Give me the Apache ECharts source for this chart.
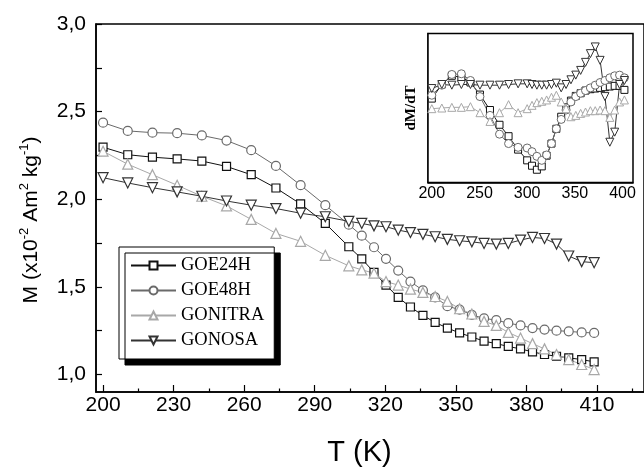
<!DOCTYPE html>
<html>
<head>
<meta charset="utf-8">
<script src="https://cdn.jsdelivr.net/npm/echarts@6/dist/echarts.min.js"></script>
<style>html,body{margin:0;padding:0;background:#fff}#c{width:644px;height:472px}</style>
</head>
<body>
<div id="c"></div>
<script>
// ---- main chart data: T (K) and M (x10^-2 Am^2 kg^-1)
const T_MAIN = [200, 210.5, 221, 231.5, 242, 252.5, 263, 273.5, 284, 294.5, 304.5, 310, 315.2, 320.3, 325.5, 330.7, 336, 341.2, 346.4, 351.6, 356.8, 362, 367.2, 372.3, 377.5, 382.6, 387.7, 392.8, 398, 403.5, 408.8];
const GOE24H = [2.297, 2.254, 2.24, 2.23, 2.218, 2.187, 2.14, 2.064, 1.973, 1.862, 1.729, 1.66, 1.583, 1.51, 1.44, 1.385, 1.337, 1.297, 1.265, 1.237, 1.214, 1.19, 1.176, 1.16, 1.146, 1.129, 1.114, 1.104, 1.095, 1.085, 1.072];
const GOE48H = [2.437, 2.39, 2.38, 2.377, 2.364, 2.335, 2.28, 2.19, 2.08, 1.966, 1.855, 1.792, 1.726, 1.66, 1.593, 1.53, 1.48, 1.44, 1.39, 1.37, 1.34, 1.32, 1.31, 1.293, 1.28, 1.265, 1.256, 1.25, 1.246, 1.24, 1.237];
const GONITRA = [2.274, 2.2, 2.14, 2.08, 2.017, 1.962, 1.885, 1.805, 1.76, 1.68, 1.62, 1.597, 1.578, 1.53, 1.51, 1.487, 1.468, 1.445, 1.417, 1.375, 1.345, 1.303, 1.28, 1.24, 1.208, 1.176, 1.146, 1.114, 1.085, 1.057, 1.028];
const GONOSA = [2.123, 2.093, 2.066, 2.042, 2.017, 1.99, 1.966, 1.947, 1.92, 1.9, 1.874, 1.862, 1.848, 1.843, 1.824, 1.81, 1.8, 1.786, 1.771, 1.763, 1.757, 1.748, 1.744, 1.748, 1.767, 1.782, 1.776, 1.744, 1.676, 1.644, 1.638];

// ---- inset data: dM/dT (arbitrary units)
const T_INSET = [200, 210.5, 221, 231, 240.5, 250.5, 261, 271, 280.5, 290.5, 300, 305.1, 310.2, 315.3, 320.4, 325.5, 330.6, 335.7, 340.8, 345.9, 351, 356.1, 361.2, 366.3, 371.4, 376.5, 381.6, 386.7, 391.8, 396.9, 402];
const D_GOE24H = [6.25, 7.3, 7.95, 7.85, 7.45, 6.55, 5.4, 4.3, 3.45, 2.45, 1.65, 1.25, 0.95, 1.2, 2.0, 2.9, 4.0, 4.9, 5.6, 6.1, 6.45, 6.65, 6.85, 6.95, 7.0, 7.05, 7.1, 7.15, 7.2, 7.2, 6.9];
const D_GOE48H = [6.5, 7.25, 8.05, 8.1, 7.6, 6.4, 5.0, 3.6, 2.9, 2.62, 2.57, 2.3, 1.95, 1.65, 2.05, 2.9, 4.0, 4.7, 5.4, 6.0, 6.4, 6.65, 6.85, 7.05, 7.25, 7.45, 7.6, 7.8, 7.95, 8.0, 7.8];
const D_GONITRA = [5.5, 5.55, 5.6, 5.6, 5.65, 5.2, 4.55, 5.2, 5.8, 5.2, 5.5, 5.75, 5.95, 6.05, 6.15, 6.35, 6.5, 6.0, 5.5, 4.9, 5.0, 5.15, 5.25, 5.35, 5.35, 5.4, 5.35, 4.85, 5.4, 6.0, 6.15];
const D_GONOSA = [7.0, 7.3, 7.25, 7.3, 7.3, 7.25, 7.25, 7.25, 7.3, 7.35, 7.35, 7.3, 7.25, 7.25, 7.25, 7.3, 7.4, 7.05, 7.3, 7.65, 8.0, 8.35, 8.95, 9.6, 10.1, 9.1, 6.4, 3.0, 3.75, 7.3, 7.6];

// ---- tick values
const X_TICKS = [200, 230, 260, 290, 320, 350, 380, 410];
const X_MINOR = [215, 245, 275, 305, 335, 365, 395, 425];
const Y_TICKS = [1.0, 1.5, 2.0, 2.5, 3.0];
const Y_MINOR = [1.25, 1.75, 2.25, 2.75];
const INSET_X_TICKS = [200, 250, 300, 350, 400];
const INSET_X_MINOR = [225, 275, 325, 375];
const INSET_Y_TICKS = [0.5, 1.5, 2.5, 3.5, 4.5, 5.5, 6.5, 7.5, 8.5, 9.5, 10.5];

const NAMES = ['GOE24H', 'GOE48H', 'GONITRA', 'GONOSA'];
const COLORS = ['#111111', '#6a6a6a', '#a8a8a8', '#333333'];
const SYMBOLS = ['rect', 'circle', 'triangle', 'triangle'];
const ROTATE = [0, 0, 0, 180];
const MAIN_SIZES = [8, 9, 10, 10];
const INSET_SIZES = [7, 8, 8, 8];
const MAIN_VALUES = [GOE24H, GOE48H, GONITRA, GONOSA];
const INSET_VALUES = [D_GOE24H, D_GOE48H, D_GONITRA, D_GONOSA];

const SANS = 'Liberation Sans';
const SERIF = 'Liberation Serif';

const series = [];
NAMES.forEach((n, k) => {
  series.push({
    name: n, type: 'line', xAxisIndex: 0, yAxisIndex: 0,
    data: T_MAIN.map((t, i) => [t, MAIN_VALUES[k][i]]),
    symbol: SYMBOLS[k], symbolRotate: ROTATE[k], symbolSize: MAIN_SIZES[k],
    lineStyle: { color: COLORS[k], width: 1 },
    itemStyle: { color: '#fff', borderColor: COLORS[k], borderWidth: 1.2 },
    emphasis: { disabled: true }, animation: false
  });
});
NAMES.forEach((n, k) => {
  series.push({
    name: n + ' dM/dT', type: 'line', xAxisIndex: 2, yAxisIndex: 1,
    data: T_INSET.map((t, i) => [t, INSET_VALUES[k][i]]),
    symbol: SYMBOLS[k], symbolRotate: ROTATE[k], symbolSize: INSET_SIZES[k],
    lineStyle: { color: COLORS[k], width: 1 },
    itemStyle: { color: '#fff', borderColor: COLORS[k], borderWidth: 1 },
    emphasis: { disabled: true }, animation: false
  });
});

const fmt = v => v.toFixed(1).replace('.', ',');

const option = {
  animation: false,
  backgroundColor: '#fff',
  grid: [
    { left: 96, top: 24, right: -3, height: 368.5, show: true, borderColor: '#000', borderWidth: 1.5, backgroundColor: 'transparent' },
    { left: 428, top: 33.5, width: 205, height: 149, show: true, borderColor: '#000', borderWidth: 1.5, backgroundColor: '#fff', z: 3 }
  ],
  legend: {
    orient: 'vertical', left: 119, top: 247,
    data: NAMES,
    itemWidth: 45, itemHeight: 10, itemGap: 6,
    padding: [9, 10, 9, 11],
    backgroundColor: '#fff', borderColor: '#000', borderWidth: 1,
    shadowColor: '#000', shadowBlur: 0, shadowOffsetX: 6, shadowOffsetY: 6,
    textStyle: { fontFamily: SERIF, fontSize: 18.5, color: '#000' },
    selectedMode: false
  },
  xAxis: [
    { gridIndex: 0, type: 'value', min: 197, max: 430,
      name: 'T (K)', nameLocation: 'middle', nameGap: 46,
      nameTextStyle: { fontFamily: SANS, fontSize: 29, color: '#000', padding: [0, 21, 0, 0] },
      axisLine: { show: true, lineStyle: { color: '#000', width: 1.5 } },
      axisTick: { show: true, inside: true, length: 7, customValues: X_TICKS, lineStyle: { color: '#000', width: 1.2 } },
      axisLabel: { customValues: X_TICKS, fontFamily: SANS, fontSize: 21, color: '#000', margin: 3 },
      splitLine: { show: false } },
    { gridIndex: 0, type: 'value', min: 197, max: 430, position: 'bottom',
      axisLine: { show: false },
      axisTick: { show: true, inside: true, length: 3.5, customValues: X_MINOR, lineStyle: { color: '#000', width: 1.2 } },
      axisLabel: { show: false }, splitLine: { show: false } },
    { gridIndex: 1, type: 'value', min: 196, max: 411,
      axisLine: { show: true, lineStyle: { color: '#000', width: 1.5 } },
      axisTick: { show: true, inside: true, length: 4, customValues: INSET_X_TICKS, lineStyle: { color: '#000', width: 1 } },
      axisLabel: { customValues: INSET_X_TICKS, fontFamily: SANS, fontSize: 16, color: '#000', margin: 3 },
      splitLine: { show: false } },
    { gridIndex: 1, type: 'value', min: 196, max: 411, position: 'bottom',
      axisLine: { show: false },
      axisTick: { show: true, inside: true, length: 2.5, customValues: INSET_X_MINOR, lineStyle: { color: '#000', width: 1 } },
      axisLabel: { show: false }, splitLine: { show: false } }
  ],
  yAxis: [
    { gridIndex: 0, type: 'value', min: 0.9, max: 3.0,
      name: 'M (x10{s|-2} Am{s|2} kg{s|-1})', nameLocation: 'middle', nameGap: 52, nameRotate: 90,
      nameTextStyle: { fontFamily: SANS, fontSize: 21, color: '#000', lineHeight: 26, padding: [0, 24, 0, 0],
        rich: { s: { fontFamily: SANS, fontSize: 13, color: '#000', verticalAlign: 'top', lineHeight: 26 } } },
      axisLine: { show: true, lineStyle: { color: '#000', width: 1.5 } },
      axisTick: { show: true, inside: true, length: 6, customValues: Y_TICKS.concat(Y_MINOR), lineStyle: { color: '#000', width: 1.2 } },
      axisLabel: { customValues: Y_TICKS, formatter: fmt, fontFamily: SANS, fontSize: 21, color: '#000', margin: 10 },
      splitLine: { show: false } },
    { gridIndex: 1, type: 'value', min: 0, max: 11.1,
      name: 'dM/dT', nameLocation: 'middle', nameGap: 9, nameRotate: 90,
      nameTextStyle: { fontFamily: SERIF, fontSize: 15, fontWeight: 'bold', color: '#000' },
      axisLine: { show: true, lineStyle: { color: '#000', width: 1.5 } },
      axisTick: { show: true, inside: true, length: 3.5, customValues: INSET_Y_TICKS, lineStyle: { color: '#000', width: 1 } },
      axisLabel: { show: false },
      splitLine: { show: false } }
  ],
  series: series
};

const chart = echarts.init(document.getElementById('c'), null, { renderer: 'canvas' });
chart.setOption(option);
</script>
</body>
</html>
